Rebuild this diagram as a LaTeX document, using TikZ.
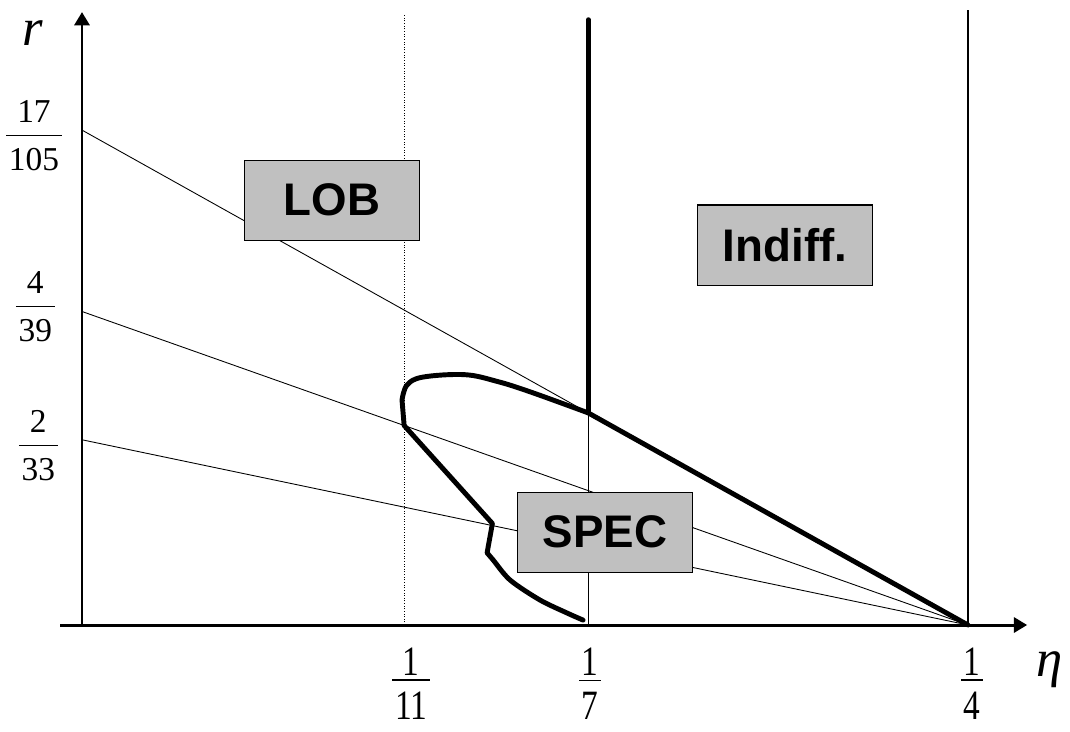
\documentclass[tikz,border=0pt]{standalone}
\usepackage{fontspec}
\setmainfont{Liberation Serif}
\newfontfamily\boxfont{Liberation Sans}
\definecolor{regiongray}{HTML}{C0C0C0}
\usetikzlibrary{arrows.meta}
% stacked fraction: gap above bar, gap below bar, numerator, denominator
\newcommand\vfrac[4]{\vbox{\halign{\hfil\kern1.5pt##\kern1.5pt\hfil\cr
   #3\cr\noalign{\kern#1\hrule height 0.7pt\kern#2}#4\cr}}}
% taller fraction for the eta axis
\newcommand\tallfrac[2]{\scalebox{1}[1.25]{\vfrac{2pt}{5pt}{#1}{#2}}}

\begin{document}
\begin{tikzpicture}[x=70.88cm, y=61.14cm,
   axis/.style={line width=1.7pt, -{Triangle[length=7.5pt, width=8.5pt]}},
   ratio/.style={line width=0.5pt},
   border/.style={line width=2.8pt, line cap=round, line join=round},
   region/.style={draw, fill=regiongray, line width=0.6pt,
      minimum width=3.5cm, minimum height=1.6cm,
      font=\boxfont\bfseries\fontsize{26}{30}\selectfont},
   ylab/.style={anchor=east, inner sep=0pt, font=\fontsize{19}{22}\selectfont},
   xlab/.style={inner sep=0pt, font=\fontsize{19}{22}\selectfont}]
   \useasboundingbox (-1.64cm,-2.12cm) rectangle (19.76cm,12.5cm);
   % Key points
   \coordinate (O) at (0,0);
   \coordinate (E) at (1/4,0);
   \coordinate (r1) at (0,17/105);
   \coordinate (r2) at (0,4/39);
   \coordinate (r3) at (0,2/33);
   \coordinate (S) at (1/7,51/735);
   \coordinate (Q) at (1/11,28/429);
   % Vertical guides
   \draw[ratio, densely dotted] (1/11,0) -- (1/11,0.1995);
   \draw[ratio] (1/7,0) -- (S);
   \draw[line width=0.7pt] (E) -- (1/4,0.2012);
   \draw[border] (S) -- (1/7,0.198);
   % Lines to 1/4
   \draw[ratio] (r1) -- (E);
   \draw[ratio] (r2) -- (E);
   \draw[ratio] (r3) -- (E);
   % Boundary of SPEC
   \draw[border] plot[smooth, tension=0.5] coordinates {(0.1414,0.0016) (0.1369,0.0039)
         (0.1292,0.0082) (0.1208,0.0147) (0.1160,0.0213) (0.1143,0.0236)}
      -- (0.1158,0.0332) -- (Q)
      -- plot[smooth, tension=0.6] coordinates {(0.0903,0.0736) (0.0917,0.0785)
         (0.0962,0.0811) (0.1080,0.0819) (0.1171,0.0797) (0.1264,0.0763) (S)}
      -- (E);
   % Regions
   \node[region] (lob) at (0.0705,0.139) {LOB};
   \node[region] (indiff) at (0.1984,0.1243) {Indiff.};
   \node[region] (spec) at (0.1476,0.0304) {SPEC};
   % Axes
   \draw[axis] (-0.0062,0) -- (0.2667,0);
   \draw[axis] (O) -- (0,0.2005);
   \node[font=\fontsize{30}{32}\selectfont\itshape] (rlab) at (-0.98cm,11.84cm) {r};
   \node[font=\fontsize{30}{32}\selectfont\itshape] (etalab) at (19.36cm,-0.9cm) {η};
   % Tick labels
   \node[ylab] (l1) at ([xshift=-0.4cm,yshift=-0.12cm]r1) {\vfrac{7pt}{7pt}{17}{105}};
   \node[ylab] (l2) at ([xshift=-0.54cm,yshift=0.1cm]r2) {\vfrac{7pt}{7pt}{4}{39}};
   \node[ylab] (l3) at ([xshift=-0.48cm,yshift=-0.12cm]r3) {\vfrac{7pt}{7pt}{2}{33}};
   \node[xlab] (t1) at ([yshift=-1.17cm,xshift=0.14cm]1/11,0) {\tallfrac{1}{11}};
   \node[xlab] (t2) at ([yshift=-1.17cm,xshift=0.04cm]1/7,0) {\tallfrac{1}{7}};
   \node[xlab] (t3) at ([yshift=-1.17cm,xshift=0.08cm]1/4,0) {\tallfrac{1}{4}};
\end{tikzpicture}
\end{document}
